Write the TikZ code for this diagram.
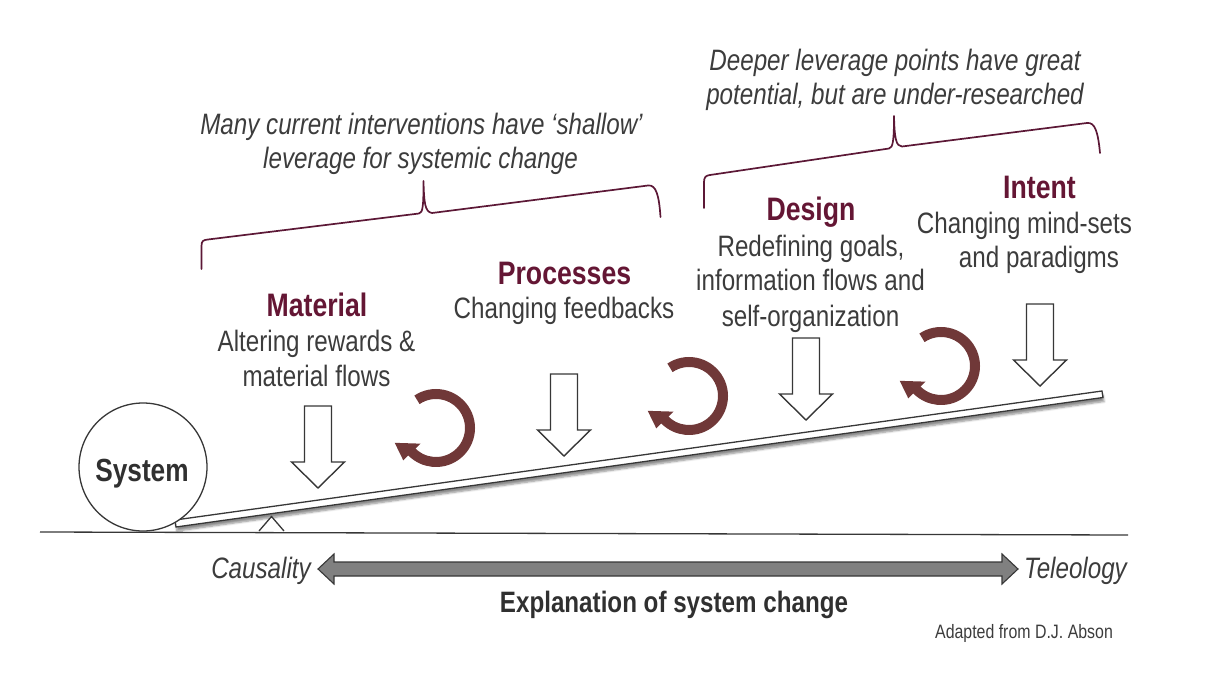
\documentclass[tikz,border=0pt]{standalone}
\usepackage{fontspec}
\setmainfont{Liberation Sans}[FakeStretch=0.82]
\usetikzlibrary{shadows.blur}
\definecolor{titlecol}{RGB}{100,22,52}
\definecolor{bracecol}{RGB}{92,24,54}
\definecolor{cyccol}{RGB}{112,56,56}
\definecolor{textcol}{RGB}{60,60,60}
\definecolor{linecol}{RGB}{55,55,55}
\definecolor{dblfill}{RGB}{128,128,128}
\begin{document}
\begin{tikzpicture}[x=1pt,y=1pt,
  title/.style={font=\fontsize{32.5}{36}\selectfont\bfseries, text=titlecol, anchor=base, inner sep=0pt},
  body/.style={font=\fontsize{29.5}{34}\selectfont, text=textcol, anchor=base, inner sep=0pt},
  note/.style={font=\fontsize{29.5}{34}\selectfont\itshape, text=textcol, anchor=base, inner sep=0pt},
  boldbody/.style={font=\fontsize{29.5}{34}\selectfont\bfseries, text=textcol!80!black, anchor=base, inner sep=0pt},
  credit/.style={font=\fontsize{19.4}{22}\selectfont, text=textcol, anchor=base, inner sep=0pt},
  bracepath/.style={draw=bracecol, line width=1.7, line cap=round, line join=round},
  blockarrow/.style={draw=linecol, fill=white, line width=1.4, line join=miter},
  leverbar/.style={draw=linecol, fill=white, line width=1.3, line join=miter},
  dnarrow/.pic={\draw[blockarrow] (-13.5,0) -- (13.5,0) -- (13.5,-56) -- (26.5,-56) -- (0,-82) -- (-26.5,-56) -- (-13.5,-56) -- cycle;},
  cycarrow/.pic={
    \draw[line width=10, draw=cyccol] (124:34) arc[start angle=124, end angle=-136, radius=34];
    \fill[cyccol, rotate=-136] (46,0.5) -- (22,0.5) -- (40,-18) -- cycle;}
]
\useasboundingbox (0,0) rectangle (1205,-680);

% braces
\draw[bracepath] (201.5,-269) -- (201.5,-246) .. controls (201.5,-241) and (203,-240) .. (208,-239.5)
  -- (419,-213.5) .. controls (423,-213) and (423.5,-205) .. (423.5,-181)
  .. controls (424,-203) and (425,-212) .. (432,-213)
  -- (648,-185.5) .. controls (656,-184.5) and (659,-195) .. (660.5,-217);
\draw[bracepath] (704,-208) -- (704,-182) .. controls (704,-177) and (706,-175.5) .. (710,-175)
  -- (889,-148.5) .. controls (893,-148) and (894,-140) .. (894,-116)
  .. controls (894.5,-138) and (896,-146.5) .. (902,-146.5)
  -- (1087,-123) .. controls (1095,-122) and (1098,-132) .. (1100,-153);

% texts
\node[note] (deep1) at (895,-70) {Deeper leverage points have great};
\node[note] (deep2) at (895,-104) {potential, but are under-researched};
\node[note] (many1) at (421.5,-134) {Many current interventions have ‘shallow’};
\node[note] (many2) at (420.5,-168) {leverage for systemic change};
\node[title] (mat) at (317,-316) {Material};
\node[body] (mat1) at (316.5,-351) {Altering rewards \&};
\node[body] (mat2) at (316.5,-386) {material flows};
\node[title] (proc) at (564.5,-284) {Processes};
\node[body] (proc1) at (564,-318) {Changing feedbacks};
\node[title] (des) at (811,-220) {Design};
\node[body] (des1) at (811,-256) {Redefining goals,};
\node[body] (des2) at (810.5,-290) {information flows and};
\node[body] (des3) at (810.5,-326) {self-organization};
\node[title] (int) at (1039.5,-198) {Intent};
\node[body] (int1) at (1024.5,-233) {Changing mind-sets};
\node[body] (int2) at (1039,-267) {and paradigms};

% lever, fulcrum, ground
\draw[leverbar, blur shadow={shadow xshift=1pt, shadow yshift=-4pt, shadow blur steps=6, shadow opacity=45}]
  (175,-520) -- (1102,-391) -- (1103,-397.5) -- (176,-527) -- cycle;
\draw[leverbar] (259,-531) -- (271.5,-516.5) -- (284,-531);
\coordinate (g1) at (40,-532);
\coordinate (g2) at (1128,-535);
\draw[draw=linecol, line width=1.3] (g1) -- (g2);

% system
\node[circle, draw=linecol, fill=white, line width=1.3, minimum size=128, inner sep=0pt] (sys) at (143,-467) {};
\node[font=\fontsize{32}{36}\selectfont\bfseries, text=textcol!80!black, anchor=base, inner sep=0pt] (syslabel) at (142,-481) {System};

% down arrows
\pic (a1) at (318,-406) {dnarrow};
\pic (a2) at (564,-374) {dnarrow};
\pic (a3) at (806,-338) {dnarrow};
\pic (a4) at (1040,-304) {dnarrow};

% circular arrows
\pic (c1) at (436,-428) {cycarrow};
\pic (c2) at (689,-396) {cycarrow};
\pic (c3) at (941,-366) {cycarrow};

% double arrow
\draw[draw=linecol, fill=dblfill, line width=1.1, line join=miter]
  (318,-569) -- (334,-554) -- (334,-562) -- (1002,-562) -- (1002,-554) -- (1018,-569)
  -- (1002,-584) -- (1002,-576) -- (334,-576) -- (334,-584) -- cycle;
\node[note] (caus) at (261,-578) {Causality};
\node[note] (tele) at (1075.5,-578) {Teleology};
\node[boldbody] (expl) at (674,-612) {Explanation of system change};
\node[credit] (adapt) at (1024,-638) {Adapted from D.J. Abson};
\end{tikzpicture}
\end{document}
